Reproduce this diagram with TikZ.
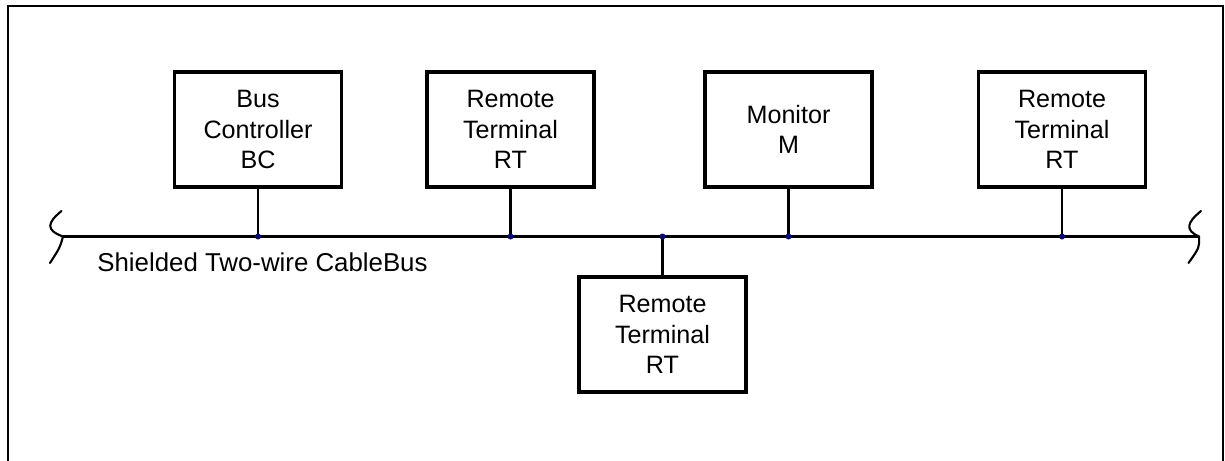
\documentclass[tikz,border=0pt]{standalone}
\usepackage{fontspec}
\setmainfont{Liberation Sans}
\usetikzlibrary{positioning}

\tikzset{
  unit/.style={draw,line width=1.9pt,minimum width=3.34cm,minimum height=2.3cm,
    align=center,inner sep=0pt,font=\fontsize{14.3}{17.2}\selectfont},
  wire/.style={line width=1.4pt},
  tap/.style={line width=1.3pt},
  brk/.style={line width=1.2pt,line cap=round},
}
\definecolor{tapblue}{RGB}{10,10,120}

\begin{document}
\begin{tikzpicture}
  \useasboundingbox (0,0) rectangle (24.5,-9.2);
  % frame
  \draw [line width=1.6pt](0.16,-9.4) -- (0.16,-0.12) -- (24.46,-0.12) -- (24.46,-9.4);
  % units on top
  \node[unit] at(5.16,-2.59)(bc){Bus\\Controller\\BC};
  \node[unit] at(10.21,-2.59)(rta){Remote\\Terminal\\RT};
  \node[unit] at(15.77,-2.59)(mon){Monitor\\M};
  \node[unit] at(21.24,-2.59)(rtc){Remote\\Terminal\\RT};
  % unit below the bus
  \node[unit] at(13.25,-6.69)(rtb){Remote\\Terminal\\RT};
  % bus
  \coordinate (busL) at(1.26,-4.73);
  \coordinate (busR) at(23.98,-4.73);
  \draw [wire](busL) -- (busR);
  % cable breaks
  \draw [brk](1.23,-4.22) .. controls (0.95,-4.45) and (0.9,-4.6) .. (busL)
    .. controls (1.2,-4.95) .. (1.0,-5.26);
  \draw [brk](24.02,-4.22) .. controls (23.74,-4.45) and (23.69,-4.6) .. (busR)
    .. controls (23.99,-4.95) .. (23.77,-5.26);
  % taps
  \foreach \u in {bc,rta,mon,rtc,rtb}{
    \coordinate (j\u) at(\u |- busL);
    \draw [tap](\u) -- (j\u);
    \fill [tapblue](j\u) circle (0.06);
  }
  % cable label
  \node[anchor=base west,inner sep=0pt,font=\fontsize{14.7}{17}\selectfont]
    at(1.94,-5.42)(cable){Shielded Two-wire CableBus};
\end{tikzpicture}
\end{document}
